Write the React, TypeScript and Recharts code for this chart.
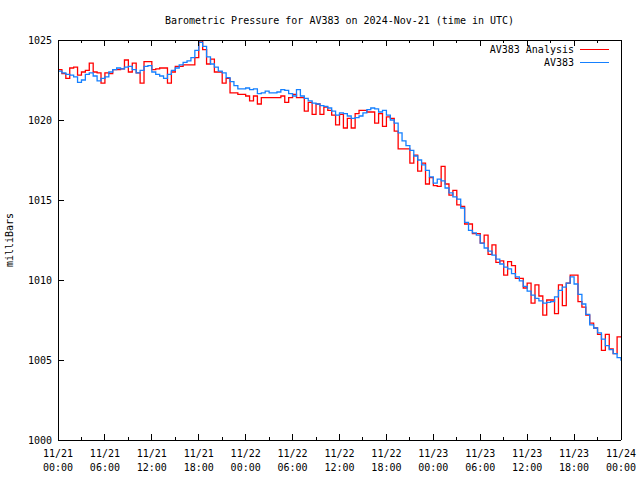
import React from "react";
import { LineChart, Line, XAxis, YAxis } from "recharts";

const hours: number[] = Array.from({ length: 145 }, (_, i) => i * 0.5);

const av383: number[] = [
  1023.05, 1022.95, 1022.85, 1022.8, 1022.7, 1022.35, 1022.5, 1022.85, 1022.95, 1022.75, 1022.45, 1022.6,
  1022.7, 1023.0, 1023.15, 1023.25, 1023.2, 1023.3, 1023.35, 1023.15, 1022.95, 1023.1, 1023.35, 1023.4,
  1023.0, 1022.85, 1022.75, 1022.6, 1022.85, 1023.1, 1023.25, 1023.45, 1023.6, 1023.7, 1023.9, 1024.35,
  1024.85, 1024.6, 1023.95, 1023.5, 1023.3, 1023.05, 1022.95, 1022.65, 1022.4, 1022.15, 1021.95, 1021.95,
  1022.0, 1021.9, 1021.95, 1021.65, 1021.7, 1021.8, 1021.7, 1021.7, 1021.75, 1021.9, 1021.85, 1021.65,
  1021.5, 1021.9, 1021.5, 1021.35, 1021.2, 1021.05, 1021.0, 1020.9, 1020.85, 1020.75, 1020.55, 1020.3,
  1020.45, 1020.4, 1020.25, 1020.1, 1020.15, 1020.25, 1020.45, 1020.65, 1020.75, 1020.7, 1020.5, 1020.6,
  1020.3, 1020.0, 1019.8, 1019.2, 1018.7, 1018.4, 1018.1, 1017.75, 1017.5, 1017.2, 1016.85, 1016.45,
  1016.05, 1016.3, 1016.2, 1015.75, 1015.45, 1015.2, 1015.05, 1014.5, 1013.6, 1013.1, 1012.95, 1012.8,
  1012.3, 1012.0, 1011.8, 1011.55, 1011.3, 1011.0, 1010.8, 1010.7, 1010.4, 1010.2, 1009.95, 1009.6,
  1009.3, 1009.05, 1008.85, 1008.7, 1008.55, 1008.6, 1008.65, 1008.95, 1009.35, 1009.55, 1009.8, 1010.2,
  1009.75, 1009.1, 1008.5, 1007.85, 1007.2, 1007.0, 1006.7, 1006.3, 1005.9, 1005.65, 1005.4, 1005.15,
  1004.95,
];

const av383Analysis: number[] = [
  1023.15, 1022.9, 1022.6, 1023.25, 1023.3, 1022.8, 1023.0, 1023.1, 1023.55, 1023.0, 1022.95, 1022.3,
  1022.95, 1022.9, 1023.15, 1023.15, 1023.2, 1023.75, 1023.0, 1023.55, 1022.95, 1022.3, 1023.65, 1023.65,
  1023.15, 1023.2, 1023.25, 1023.25, 1022.3, 1023.0, 1023.35, 1023.35, 1023.45, 1023.45, 1023.45, 1023.9,
  1024.95, 1024.4, 1023.5, 1023.8, 1023.0, 1023.0, 1022.3, 1022.6, 1021.7, 1021.7, 1021.6, 1021.6,
  1021.5, 1021.2, 1021.5, 1021.0, 1021.4, 1021.4, 1021.4, 1021.4, 1021.4, 1021.5, 1021.1, 1021.4,
  1021.6, 1021.4, 1021.4, 1020.55, 1021.1, 1020.35, 1021.0, 1020.35, 1020.8, 1020.6, 1020.3, 1019.7,
  1020.35, 1019.5, 1020.1, 1019.5, 1020.4, 1020.6, 1020.6, 1020.5, 1020.5, 1019.8, 1020.4, 1019.6,
  1020.2, 1020.1, 1019.3, 1018.2, 1018.2, 1018.2, 1017.3, 1017.8, 1016.8, 1017.3, 1016.0, 1016.4,
  1015.9, 1015.85, 1017.1, 1016.0, 1015.3, 1015.6, 1014.7, 1014.6, 1013.5, 1013.5, 1012.9, 1012.9,
  1012.3, 1012.8, 1011.6, 1012.2, 1011.1, 1011.2, 1010.3, 1011.15, 1010.9, 1010.1, 1010.1, 1009.5,
  1009.8, 1008.55, 1009.7, 1009.0, 1007.8, 1008.75, 1008.75, 1007.9, 1009.7, 1008.4, 1009.8, 1010.3,
  1010.3, 1008.65, 1008.3, 1007.8, 1007.3, 1007.0, 1006.6, 1005.6, 1006.6, 1005.7, 1005.4, 1006.45,
  1006.45,
];

const xTicks: number[] = [0, 3, 6, 9, 12, 15, 18, 21, 24, 27, 30, 33, 36, 39, 42, 45, 48, 51, 54, 57, 60, 63, 66, 69, 72];
const dateLabels: string[] = ["11/21", "11/21", "11/21", "11/21", "11/22", "11/22", "11/22", "11/22", "11/23", "11/23", "11/23", "11/23", "11/24"];
const timeLabels: string[] = ["00:00", "06:00", "12:00", "18:00", "00:00", "06:00", "12:00", "18:00", "00:00", "06:00", "12:00", "18:00", "00:00"];
const yTicks: number[] = [1000, 1005, 1010, 1015, 1020, 1025];

const data = hours.map((t, i) => ({ t, blue: av383[i], red: av383Analysis[i] }));

const FONT = "'DejaVu Sans Mono', monospace";

const BottomTick = (props: any) => {
  const { x, y, payload } = props;
  const v = payload.value as number;
  const major = v % 6 === 0;
  const idx = v / 6;
  return (
    <g>
      <line x1={x} y1={y} x2={x} y2={y - (major ? 6 : 3)} stroke="#000" shapeRendering="crispEdges" />
      {major && (
        <text x={x} y={y + 17} textAnchor="middle" fontFamily={FONT} fontSize={10} fill="#000">
          {dateLabels[idx]}
        </text>
      )}
      {major && (
        <text x={x} y={y + 31} textAnchor="middle" fontFamily={FONT} fontSize={10} fill="#000">
          {timeLabels[idx]}
        </text>
      )}
    </g>
  );
};

const TopTick = (props: any) => {
  const { x, y, payload } = props;
  const major = (payload.value as number) % 6 === 0;
  return <line x1={x} y1={y} x2={x} y2={y + (major ? 6 : 3)} stroke="#000" shapeRendering="crispEdges" />;
};

const LeftTick = (props: any) => {
  const { x, y, payload } = props;
  return (
    <g>
      <line x1={x} y1={y} x2={x + 6} y2={y} stroke="#000" shapeRendering="crispEdges" />
      <text x={x - 6} y={y + 3.5} textAnchor="end" fontFamily={FONT} fontSize={10} fill="#000">
        {payload.value}
      </text>
    </g>
  );
};

const RightTick = (props: any) => {
  const { x, y } = props;
  return <line x1={x} y1={y} x2={x - 6} y2={y} stroke="#000" shapeRendering="crispEdges" />;
};

export default function App() {
  return (
    <div style={{ position: "absolute", left: 0, top: 0, width: 640, height: 480, background: "#fff" }}>
      <LineChart width={640} height={480} data={data} margin={{ top: 10, right: 9, bottom: 10, left: 8 }}>
        <XAxis
          xAxisId="b"
          dataKey="t"
          type="number"
          domain={[0, 72]}
          ticks={xTicks}
          interval={0}
          height={30}
          tickSize={0}
          tickMargin={0}
          tickLine={false}
          axisLine={{ stroke: "#000", shapeRendering: "crispEdges" }}
          tick={<BottomTick />}
        />
        <XAxis
          xAxisId="t"
          orientation="top"
          dataKey="t"
          type="number"
          domain={[0, 72]}
          ticks={xTicks}
          interval={0}
          height={30}
          tickSize={0}
          tickMargin={0}
          tickLine={false}
          axisLine={{ stroke: "#000", shapeRendering: "crispEdges" }}
          tick={<TopTick />}
        />
        <YAxis
          yAxisId="l"
          type="number"
          domain={[1000, 1025]}
          ticks={yTicks}
          interval={0}
          width={50}
          tickSize={0}
          tickMargin={0}
          tickLine={false}
          axisLine={{ stroke: "#000", shapeRendering: "crispEdges" }}
          tick={<LeftTick />}
        />
        <YAxis
          yAxisId="r"
          orientation="right"
          type="number"
          domain={[1000, 1025]}
          ticks={yTicks}
          interval={0}
          width={10}
          tickSize={0}
          tickMargin={0}
          tickLine={false}
          axisLine={{ stroke: "#000", shapeRendering: "crispEdges" }}
          tick={<RightTick />}
        />
        <Line
          xAxisId="b"
          yAxisId="l"
          type="stepAfter"
          dataKey="red"
          stroke="#ff0000"
          strokeWidth={1.3}
          dot={false}
          isAnimationActive={false}
        />
        <Line
          xAxisId="b"
          yAxisId="l"
          type="stepAfter"
          dataKey="blue"
          stroke="#1580ff"
          strokeWidth={1.3}
          dot={false}
          isAnimationActive={false}
        />
      </LineChart>
      <svg width={640} height={480} style={{ position: "absolute", left: 0, top: 0, pointerEvents: "none" }}>
        <text x={339.5} y={24} textAnchor="middle" fontFamily={FONT} fontSize={10} fill="#000">
          Barometric Pressure for AV383 on 2024-Nov-21 (time in UTC)
        </text>
        <text x={13} y={240} textAnchor="middle" fontFamily={FONT} fontSize={10} fill="#000" transform="rotate(-90 13 240)">
          milliBars
        </text>
        <text x={574} y={53} textAnchor="end" fontFamily={FONT} fontSize={10} fill="#000">
          AV383 Analysis
        </text>
        <line x1={580} y1={49.5} x2={609} y2={49.5} stroke="#ff0000" strokeWidth={1} />
        <text x={574} y={66} textAnchor="end" fontFamily={FONT} fontSize={10} fill="#000">
          AV383
        </text>
        <line x1={580} y1={62.5} x2={609} y2={62.5} stroke="#1580ff" strokeWidth={1} />
      </svg>
    </div>
  );
}
